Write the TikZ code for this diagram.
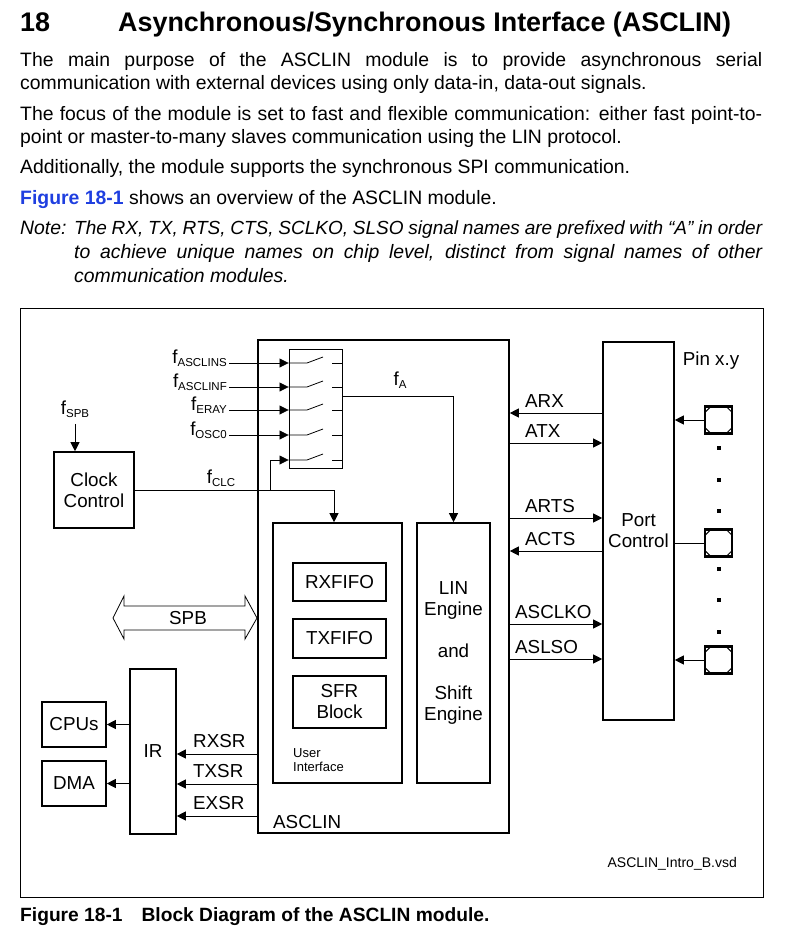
\documentclass[tikz,border=0pt]{standalone}
\usepackage{fontspec}
\setmainfont{Liberation Sans}
\usepackage{tikz}
\usetikzlibrary{arrows.meta,calc}
\definecolor{linkblue}{HTML}{1F3FE0}
\newcommand{\fsz}[2]{\fontsize{#1}{#2}\selectfont}
\newcommand{\fsub}[1]{f\raisebox{-3.5pt}{\fsz{11.5}{12}#1}}
\tikzset{
  blk/.style   ={draw, line width=1.6pt, align=center, inner sep=0pt,
                 font=\fsz{18.8}{21}},
  swbox/.style ={draw, line width=0.9pt, inner sep=0pt},
  pinbox/.style={draw, line width=2.2pt, minimum width=27pt,
                 minimum height=27pt, inner sep=0pt},
  ar/.style    ={-{Triangle[length=9pt,width=9pt]}, line width=0.8pt},
  ln/.style    ={line width=0.8pt},
  lbl/.style   ={font=\fsz{18.8}{21}, inner sep=0pt},
  sig/.style   ={font=\fsz{18.8}{21}, inner sep=0pt, anchor=base west},
  para/.style  ={font=\fsz{19.4}{23}, inner sep=0pt, anchor=base west},
  uitext/.style={font=\fsz{13}{14}, inner sep=0pt, align=left},
  bdot/.style  ={fill, inner sep=0pt, minimum size=3.5pt}
}

\begin{document}
\begin{tikzpicture}[x=1pt,y=-1pt]
\useasboundingbox (0,0) rectangle (800,933);

% heading and text
\node[para] (num) at (20,32) {\fsz{26.9}{28}\bfseries 18};
\node[para] (head) at (118,32)
  {\fsz{26.9}{28}\bfseries Asynchronous/Synchronous Interface (ASCLIN)};
\node[para] (p1a) at (20,67) {\makebox[742pt][s]{The main purpose of the
  ASCLIN module is to provide asynchronous serial}};
\node[para] (p1b) at (20,90) {communication with external devices using
  only data-in, data-out signals.};
\node[para] (p2a) at (20,121) {\makebox[742pt][s]{The focus of the module
  is set to fast and flexible communication: either fast point-to-}};
\node[para] (p2b) at (20,144) {point or master-to-many slaves communication
  using the LIN protocol.};
\node[para] (p3) at (20,174) {Additionally, the module supports the
  synchronous SPI communication.};
\node[para] (p4) at (20,205) {{\color{linkblue}\bfseries Figure 18-1}
  shows an overview of the ASCLIN module.};
\node[para] (note) at (20,234) {\itshape Note:};
\node[para] (n1) at (74,234) {\itshape\fsz{19}{23}\makebox[688pt][s]{The RX,
  TX, RTS, CTS, SCLKO, SLSO signal names are prefixed with “A” in order}};
\node[para] (n2) at (74,258) {\itshape\makebox[688pt][s]{to achieve unique
  names on chip level, distinct from signal names of other}};
\node[para] (n3) at (74,282) {\itshape communication modules.};

% figure frame
\draw[ln] (20,308) rectangle (763,897);

% blocks
\node[blk, minimum width=251pt, minimum height=493pt] (asclin) at (383.5,586.5) {};
\node[sig] (asclbl) at (273,828) {ASCLIN};
\node[swbox, minimum width=53pt, minimum height=119pt] (sw) at (315.5,408.5) {};
\node[blk, minimum width=80pt, minimum height=76pt] (clk) at (94,490)
  {Clock\\Control};
\node[blk, minimum width=129pt, minimum height=260pt] (ui) at (337.5,653) {};
\node[blk, minimum width=73pt, minimum height=260pt] (lin) at (453.5,653)
  {LIN\\Engine\\[21pt]and\\[21pt]Shift\\Engine};
\node[blk, minimum width=93pt, minimum height=38pt] (rxf) at (339.5,582) {RXFIFO};
\node[blk, minimum width=93pt, minimum height=39pt] (txf) at (339.5,638.5) {TXFIFO};
\node[blk, minimum width=93pt, minimum height=52pt] (sfr) at (339.5,702)
  {SFR\\Block};
\node[uitext, anchor=base west] (uil) at (293,771) {User\\Interface};
\node[blk, minimum width=71pt, minimum height=378pt] (port) at (638.5,531)
  {Port\\Control};
\node[blk, minimum width=46pt, minimum height=165pt] (ir) at (153,751.5) {IR};
\node[blk, minimum width=64pt, minimum height=45pt] (cpu) at (74,724.5) {CPUs};
\node[blk, minimum width=64pt, minimum height=45pt] (dma) at (74,783.5) {DMA};

% pins
\node[lbl] (pinlbl) at (711,361) {Pin x.y};
\node[pinbox] (pinA) at (718.5,420) {};
\node[pinbox] (pinB) at (718.5,543) {};
\node[pinbox] (pinC) at (718.5,660) {};
\foreach \p in {pinA,pinB,pinC} {
  \draw[line width=1pt] ([shift={(1.5,6.5)}]\p.north west) -- ++(5,-5);
  \draw[line width=1pt] ([shift={(-1.5,6.5)}]\p.north east) -- ++(-5,-5);
  \draw[line width=1pt] ([shift={(1.5,-6.5)}]\p.south west) -- ++(5,5);
  \draw[line width=1pt] ([shift={(-1.5,-6.5)}]\p.south east) -- ++(-5,5);
}
\foreach \y in {448,480,511,569,600,632}
  \node[bdot] (dot\y) at (719,\y) {};

% clock switch
\foreach \y in {363,387,410,435,460} {
  \draw[ln] (sw.west|-0,\y) -- (307,\y) -- (323,\y-6);
  \draw[ln] (332,\y) -- (sw.east|-0,\y);
}
\node[lbl, anchor=base east] (fins) at (227,363) {\fsub{ASCLINS}};
\node[lbl, anchor=base east] (finf) at (227,387) {\fsub{ASCLINF}};
\node[lbl, anchor=base east] (fery) at (227,410) {\fsub{ERAY}};
\node[lbl, anchor=base east] (fosc) at (227,435) {\fsub{OSC0}};
\foreach \f in {fins,finf,fery,fosc}
  \draw[ar] ([xshift=2pt]\f.base east) -- (sw.west|-\f.base east);

\node[lbl, anchor=base] (fa) at (400,385) {\fsub{A}};
\draw[ar] (sw.east|-0,396) -| (lin.north);

\node[lbl, anchor=base] (fspb) at (75,414) {\fsub{SPB}};
\draw[ar, shorten <=6pt] (fspb.south) -- (fspb.south|-clk.north);
\node[lbl, anchor=base] (fclc) at (221,483) {\fsub{CLC}};
\coordinate (clc) at (270,490);
\draw[ar] (clk.east) -| ([xshift=-3.5pt]ui.north);
\draw[ar] (clc) |- (sw.west|-0,460);

% port signals
\draw[ar] (port.west|-0,413) -- (asclin.east|-0,413);
\node[sig] (arx) at (525,407) {ARX};
\draw[ar] (asclin.east|-0,443) -- (port.west|-0,443);
\node[sig] (atx) at (525,437) {ATX};
\draw[ar] (asclin.east|-0,518) -- (port.west|-0,518);
\node[sig] (arts) at (525,512) {ARTS};
\draw[ar] (port.west|-0,551) -- (asclin.east|-0,551);
\node[sig] (acts) at (525,545) {ACTS};
\draw[ar] (asclin.east|-0,624) -- (port.west|-0,624);
\node[sig] (asclko) at (515,618) {ASCLKO};
\draw[ar] (asclin.east|-0,659) -- (port.west|-0,659);
\node[sig] (aslso) at (515,653) {ASLSO};

\draw[ar] (pinA) -- (port.east|-pinA);
\draw[ln] (pinB) -- (port.east|-pinB);
\draw[ar] (pinC) -- (port.east|-pinC);

% bus
\draw[ln, fill=white] (113,618) -- (124,596) -- (124,606) -- (245,606)
  -- (245,596) -- (257,618) -- (245,639) -- (245,630) -- (124,630)
  -- (124,639) -- cycle;
\node[lbl] (spb) at (188,618) {SPB};

% service requests
\draw[ar] (ir.west|-cpu.east) -- (cpu.east);
\draw[ar] (ir.west|-dma.east) -- (dma.east);
\draw[ar] (asclin.west|-0,754) -- (ir.east|-0,754);
\node[sig] (rxsr) at (193,747) {RXSR};
\draw[ar] (asclin.west|-0,784) -- (ir.east|-0,784);
\node[sig] (txsr) at (193,777) {TXSR};
\draw[ar] (asclin.west|-0,816) -- (ir.east|-0,816);
\node[sig] (exsr) at (193,809) {EXSR};

\node[lbl, anchor=base east, font=\fsz{14}{15}] (vsd) at (737,867)
  {ASCLIN\_Intro\_B.vsd};
\node[para] (cap) at (20,921) {\fsz{19.2}{20}\bfseries Figure 18-1\hspace{19pt}Block
  Diagram of the ASCLIN module.};
\end{tikzpicture}
\end{document}
